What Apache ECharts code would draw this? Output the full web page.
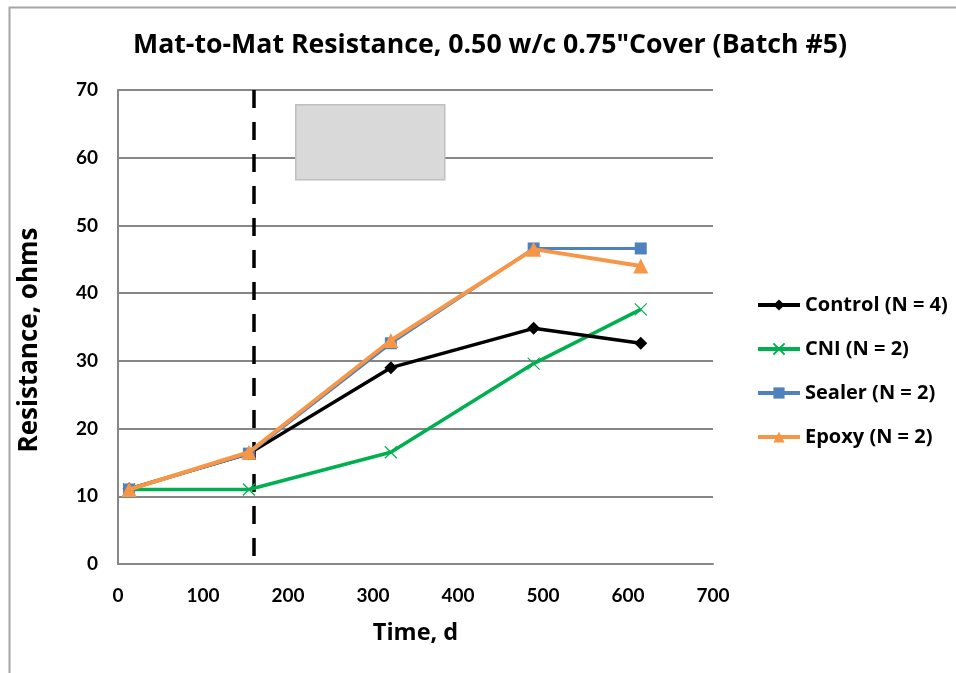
<!DOCTYPE html>
<html>
<head>
<meta charset="utf-8">
<script src="https://cdn.jsdelivr.net/npm/echarts@6/dist/echarts.min.js"></script>
<style>
html,body{margin:0;padding:0;background:#fff;}
#c{width:956px;height:673px;}
</style>
</head>
<body>
<div id="c"></div>
<script>
const days = [13, 154, 321, 489, 615];
const seriesNames = ['Control (N = 4)', 'CNI (N = 2)', 'Sealer (N = 2)', 'Epoxy (N = 2)'];
const control = [11.1, 16.3, 29.0, 34.8, 32.6];
const cni = [11.0, 11.0, 16.5, 29.6, 37.6];
const sealer = [11.0, 16.3, 32.6, 46.6, 46.6];
const epoxy = [11.0, 16.5, 33.0, 46.5, 44.0];
const markerDay = 160;
const markerRange = [70, 0];
const xTicks = {min: 0, max: 700, interval: 100};
const yTicks = {min: 0, max: 70, interval: 10};

const FONT = 'Lato, "Open Sans", sans-serif';
const WIDE = '"Open Sans", Lato, sans-serif';
const pair = (xs, ys) => xs.map((x, i) => [x, ys[i]]);
const xPath = 'path://M0,0L10,10M10,0L0,10';

const chart = echarts.init(document.getElementById('c'), null, {renderer: 'canvas'});
chart.setOption({
  animation: false,
  backgroundColor: '#fff',
  title: {
    text: 'Mat-to-Mat Resistance, 0.50 w/c 0.75"Cover (Batch #5)',
    left: 485, top: 27, textAlign: 'center',
    textStyle: {fontFamily: WIDE, fontWeight: 'bold', fontSize: 26.7, color: '#000'}
  },
  grid: {left: 118, right: 243, top: 90, bottom: 109},
  legend: {
    data: seriesNames,
    orient: 'vertical',
    left: 751, top: 290,
    itemWidth: 42, itemHeight: 14,
    itemGap: 24,
    lineStyle: {width: 4},
    textStyle: {fontFamily: WIDE, fontWeight: 'bold', fontSize: 20, color: '#000'}
  },
  xAxis: {
    type: 'value', min: xTicks.min, max: xTicks.max, interval: xTicks.interval,
    name: 'Time, d', nameLocation: 'middle', nameGap: 57,
    nameTextStyle: {fontFamily: WIDE, fontWeight: 'bold', fontSize: 23.5, color: '#000'},
    axisLine: {show: true, lineStyle: {color: '#868686', width: 2}},
    axisTick: {show: false},
    splitLine: {show: false},
    axisLabel: {fontFamily: FONT, fontWeight: 'bold', fontSize: 19, color: '#000', margin: 22}
  },
  yAxis: {
    type: 'value', min: yTicks.min, max: yTicks.max, interval: yTicks.interval,
    name: 'Resistance, ohms', nameLocation: 'middle', nameGap: 75,
    nameTextStyle: {fontFamily: WIDE, fontWeight: 'bold', fontSize: 26, color: '#000', padding: [0, 26, 0, 0]},
    axisLine: {show: true, lineStyle: {color: '#868686', width: 2}},
    axisTick: {show: false},
    splitLine: {show: true, lineStyle: {color: '#868686', width: 2}},
    axisLabel: {fontFamily: FONT, fontWeight: 'bold', fontSize: 19, color: '#000', margin: 20}
  },
  graphic: [
    {type: 'rect', left: 7, top: 5, shape: {width: 980, height: 700},
     style: {fill: 'none', stroke: '#a6a6a6', lineWidth: 2}, silent: true, z: 100},
    {type: 'rect', left: 295, top: 104, shape: {width: 149, height: 75},
     style: {fill: '#d9d9d9', stroke: '#bfbfbf', lineWidth: 1.5}, silent: true, z: 50}
  ],
  series: [
    {
      name: 'marker', type: 'line', data: markerRange.map(v => [markerDay, v]),
      symbol: 'none', silent: true,
      lineStyle: {color: '#000', width: 3.5, type: [18, 14]}, z: 1
    },
    {
      name: seriesNames[0], type: 'line', data: pair(days, control),
      symbol: 'diamond', symbolSize: 13,
      itemStyle: {color: '#000'}, lineStyle: {color: '#000', width: 3.5}, z: 3
    },
    {
      name: seriesNames[1], type: 'line', data: pair(days, cni),
      symbol: xPath, symbolSize: 12,
      itemStyle: {color: '#00b050', borderColor: '#00b050', borderWidth: 1.2},
      lineStyle: {color: '#00b050', width: 3.5}, z: 2
    },
    {
      name: seriesNames[2], type: 'line', data: pair(days, sealer),
      symbol: 'rect', symbolSize: 12,
      itemStyle: {color: '#4f81bd'}, lineStyle: {color: '#4f81bd', width: 3}, z: 4
    },
    {
      name: seriesNames[3], type: 'line', data: pair(days, epoxy),
      symbol: 'triangle', symbolSize: 15,
      itemStyle: {color: '#f79646'}, lineStyle: {color: '#f79646', width: 4}, z: 5
    }
  ]
});
</script>
</body>
</html>
